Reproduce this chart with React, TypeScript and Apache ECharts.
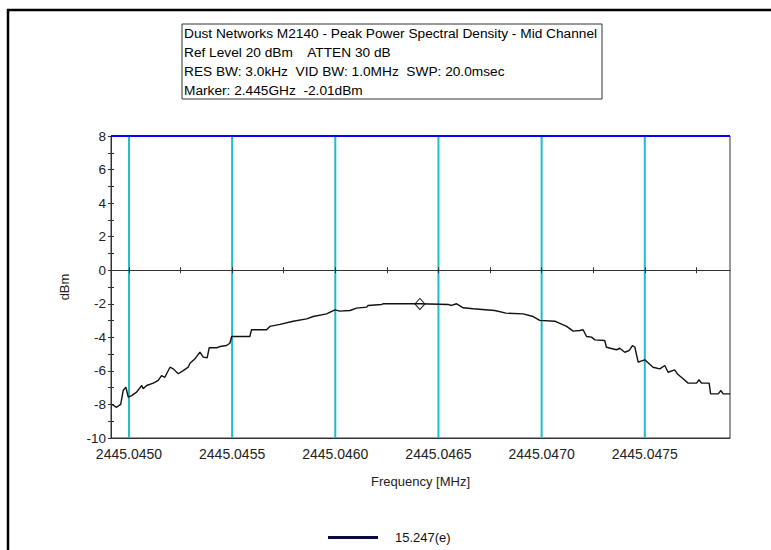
import React, { useEffect, useRef } from "react";
import * as echarts from "echarts";

// Frequency (MHz) and level (dBm) of the measured trace
const freqMHz: number[] = [
  2445.044916, 2445.04494, 2445.04496, 2445.044972, 2445.044985, 2445.044997, 2445.045013, 2445.045037,
  2445.045062, 2445.045069, 2445.045086, 2445.045118, 2445.045142, 2445.045158, 2445.045174, 2445.045199,
  2445.045215, 2445.045239, 2445.045263, 2445.045287, 2445.045296, 2445.04532, 2445.045344, 2445.04536,
  2445.045379, 2445.045389, 2445.045425, 2445.045441, 2445.045473, 2445.045489, 2445.045498, 2445.045586,
  2445.045594, 2445.045667, 2445.045683, 2445.045732, 2445.045796, 2445.045861, 2445.045893, 2445.045958,
  2445.045998, 2445.046022, 2445.046071, 2445.046103, 2445.046152, 2445.046159, 2445.046224, 2445.046232,
  2445.04641, 2445.046547, 2445.046563, 2445.046588, 2445.04662, 2445.046668, 2445.046773, 2445.046827,
  2445.04691, 2445.046959, 2445.046991, 2445.047064, 2445.047121, 2445.047153, 2445.047185, 2445.047201,
  2445.047218, 2445.047242, 2445.047258, 2445.047306, 2445.047314, 2445.047363, 2445.047379, 2445.047403,
  2445.047424, 2445.04744, 2445.047452, 2445.047468, 2445.0475, 2445.04754, 2445.047573, 2445.047597,
  2445.047613, 2445.047645, 2445.047661, 2445.047686, 2445.04771, 2445.047751, 2445.047763, 2445.047775,
  2445.047812, 2445.047819, 2445.047856, 2445.047869, 2445.04788, 2445.047913,
];
const levelDBm: number[] = [
  -7.99, -8.17, -8.0, -7.17, -6.97, -7.57, -7.47, -7.27,
  -6.87, -7.07, -6.87, -6.73, -6.57, -6.28, -6.38, -5.78,
  -5.88, -6.17, -5.98, -5.78, -5.54, -5.28, -4.88, -5.18,
  -5.22, -4.62, -4.62, -4.55, -4.49, -4.35, -3.95, -3.95,
  -3.55, -3.55, -3.35, -3.23, -3.04, -2.9, -2.76, -2.6,
  -2.36, -2.44, -2.4, -2.26, -2.2, -2.1, -2.04, -2.0,
  -2.0, -2.04, -2.1, -2.0, -2.24, -2.3, -2.4, -2.56,
  -2.6, -2.76, -2.99, -3.04, -3.35, -3.63, -3.59, -3.55,
  -3.95, -3.99, -4.15, -4.19, -4.59, -4.74, -4.65, -4.89,
  -4.79, -4.49, -4.59, -5.48, -5.34, -5.78, -5.88, -5.68,
  -6.08, -5.94, -6.22, -6.47, -6.73, -6.73, -6.53, -6.73,
  -6.73, -7.37, -7.37, -7.17, -7.37, -7.37,
];

const xMin = 2445.044913;
const xMax = 2445.047913;
const yMin = -10;
const yMax = 8;
const xLabelValues: number[] = [2445.045, 2445.0455, 2445.046, 2445.0465, 2445.047, 2445.0475];
const xZeroTickValues: number[] = [
  2445.045, 2445.04525, 2445.0455, 2445.04575, 2445.046, 2445.04625, 2445.0465, 2445.04675,
  2445.047, 2445.04725, 2445.0475, 2445.04775,
];
const markerFreq = 2445.04641;
const markerLevel = -2.01;
const seriesName = "15.247(e)";
const headerLines: string[] = [
  "Dust Networks M2140 - Peak Power Spectral Density - Mid Channel",
  "Ref Level 20 dBm    ATTEN 30 dB",
  "RES BW: 3.0kHz  VID BW: 1.0MHz  SWP: 20.0msec",
  "Marker: 2.445GHz  -2.01dBm",
];

const FONT = "Liberation Sans, Arial, sans-serif";

export default function App() {
  const ref = useRef<HTMLDivElement>(null);
  useEffect(() => {
    if (!ref.current) return;
    const chart = echarts.init(ref.current, undefined, { renderer: "svg" });
    const data = freqMHz.map((f, i) => [f, levelDBm[i]]);
    const gridLineData: any[] = [];
    xLabelValues.forEach((v) => {
      gridLineData.push([v, yMin], [v, yMax], "-");
    });
    const zeroAxisBase = {
      type: "value",
      min: xMin,
      max: xMax,
      position: "bottom",
      axisLine: { show: true, onZero: true, lineStyle: { color: "#333", width: 1 } },
      axisLabel: { show: false },
      splitLine: { show: false },
      z: 6,
    };
    const yBase = {
      type: "value",
      min: yMin,
      max: yMax,
      interval: 1,
      position: "left",
      splitLine: { show: false },
    };
    chart.setOption({
      animation: false,
      backgroundColor: "#fff",
      textStyle: { fontFamily: FONT },
      grid: {
        left: 111,
        top: 136,
        right: 41,
        bottom: 112,
        show: true,
        borderColor: "#333",
        borderWidth: 1,
        backgroundColor: "transparent",
      },
      legend: {
        data: [{ name: seriesName, icon: "rect", itemStyle: { color: "#0a0a40" } }],
        left: 323,
        top: 526,
        itemWidth: 50,
        itemHeight: 3,
        textStyle: { fontFamily: FONT, fontSize: 13, color: "#111", padding: [0, 0, 0, 12] },
      },
      xAxis: [
        {
          type: "value",
          min: xMin,
          max: xMax,
          position: "bottom",
          axisLine: { show: true, onZero: false, lineStyle: { color: "#333", width: 1 } },
          axisTick: { show: false },
          axisLabel: {
            customValues: xLabelValues,
            formatter: (v: number) => v.toFixed(4),
            fontFamily: FONT,
            fontSize: 14,
            color: "#222",
            margin: 9,
          },
          splitLine: { show: false },
          name: "Frequency [MHz]",
          nameLocation: "middle",
          nameGap: 37,
          nameTextStyle: { fontFamily: FONT, fontSize: 13, color: "#222" },
        },
        {
          ...zeroAxisBase,
          axisTick: { show: true, inside: true, length: 3, customValues: xZeroTickValues, lineStyle: { color: "#333" } },
        },
        {
          ...zeroAxisBase,
          axisTick: { show: true, inside: false, length: 3, customValues: xZeroTickValues, lineStyle: { color: "#333" } },
        },
      ],
      yAxis: [
        {
          ...yBase,
          axisLine: { show: true, lineStyle: { color: "#333", width: 1 } },
          axisTick: { show: true, inside: false, length: 3, lineStyle: { color: "#333" } },
          axisLabel: {
            formatter: (v: number) => (Math.round(v) % 2 === 0 ? String(Math.round(v)) : ""),
            fontFamily: FONT,
            fontSize: 13.5,
            color: "#222",
            margin: 5,
          },
          name: "dBm",
          nameLocation: "middle",
          nameGap: 40,
          nameTextStyle: { fontFamily: FONT, fontSize: 13, color: "#222" },
        },
        {
          ...yBase,
          axisLine: { show: false },
          axisTick: { show: true, inside: true, length: 3, lineStyle: { color: "#333" } },
          axisLabel: { show: false },
        },
      ],
      series: [
        {
          name: "grid-lines",
          type: "line",
          xAxisIndex: 0,
          yAxisIndex: 0,
          data: gridLineData,
          connectNulls: false,
          showSymbol: false,
          symbol: "none",
          silent: true,
          lineStyle: { color: "#1fbdc6", width: 2 },
          z: 1,
        },
        {
          name: seriesName,
          type: "line",
          xAxisIndex: 0,
          yAxisIndex: 0,
          data,
          showSymbol: false,
          symbol: "none",
          lineStyle: { color: "#111", width: 1.4 },
          itemStyle: { color: "#111" },
          z: 5,
          markLine: {
            silent: true,
            symbol: "none",
            label: { show: false },
            data: [{ yAxis: yMax, lineStyle: { color: "#0000ff", width: 2, type: "solid" } }],
          },
          markPoint: {
            silent: true,
            label: { show: false },
            data: [
              {
                coord: [markerFreq, markerLevel],
                symbol: "diamond",
                symbolSize: [10, 11],
                itemStyle: { color: "#fff", borderColor: "#222", borderWidth: 1 },
              },
            ],
          },
        },
      ],
      graphic: [
        {
          type: "rect",
          shape: { x: 8, y: 10, width: 800, height: 600 },
          style: { fill: "none", stroke: "#000", lineWidth: 2.5 },
          silent: true,
        },
        {
          type: "rect",
          shape: { x: 182, y: 24, width: 420, height: 75 },
          style: { fill: "#fff", stroke: "#333", lineWidth: 1 },
          silent: true,
        },
        ...headerLines.map((t, i) => ({
          type: "text",
          x: 184,
          y: 33 + i * 19,
          style: { text: t, font: `13.7px ${FONT}`, fill: "#000", verticalAlign: "middle", align: "left" },
          silent: true,
        })),
      ],
    });
    return () => chart.dispose();
  }, []);
  return (
    <div
      ref={ref}
      style={{ position: "fixed", left: 0, top: 0, width: 771, height: 550, background: "#fff" }}
    />
  );
}
